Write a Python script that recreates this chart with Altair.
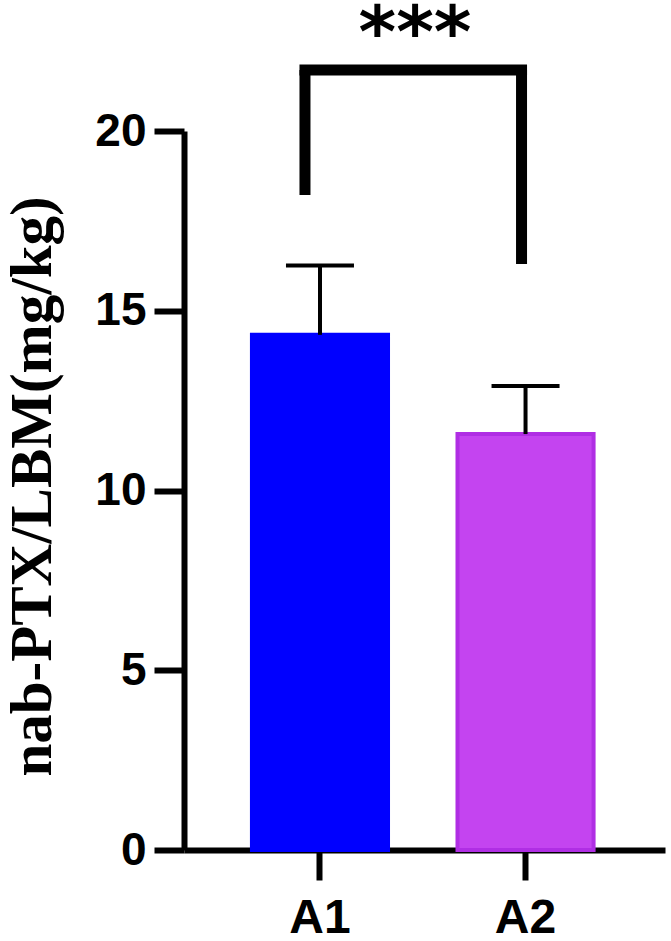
import altair as alt
import pandas as pd

groups = ["A1", "A2"]
means = [14.33, 11.57]
sds = [1.93, 1.34]
colors = ["#0000FF", "#C444F0"]
strokes = ["#0000FF", "#B02EE4"]

bracket_top = 21.70
leg_ends = [18.22, 16.30]
stars = "***"
star_y = 22.05

df = pd.DataFrame({"group": groups, "mean": means, "sd": sds,
                   "fill": colors, "stroke": strokes})
df["upper"] = df["mean"] + df["sd"]

x_scale = alt.Scale(domain=groups, paddingInner=0.338, paddingOuter=0.339, align=0.4875)
y_scale = alt.Scale(domain=[0, 20], nice=False, zero=True)

x_enc = alt.X("group:N", scale=x_scale, sort=groups,
              axis=alt.Axis(title=None, labelAngle=0, labelFont="Liberation Sans",
                            labelFontWeight="bold", labelFontSize=48, labelColor="black",
                            labelPadding=14, labelBaseline="top", grid=False,
                            domainColor="black", domainWidth=6,
                            tickColor="black", tickWidth=6, tickSize=30))

bars = alt.Chart(df).mark_bar(strokeWidth=4, strokeJoin="miter").encode(
    x=x_enc,
    y=alt.Y("mean:Q", scale=y_scale,
            axis=alt.Axis(title="nab-PTX/LBM(mg/kg)", values=[0, 5, 10, 15, 20],
                          grid=False, labelFont="Liberation Sans", labelFontWeight="bold",
                          labelFontSize=46, labelColor="black", labelPadding=8,
                          domainColor="black", domainWidth=6,
                          tickColor="black", tickWidth=6, tickSize=30,
                          titleFont="Liberation Serif", titleFontWeight="bold",
                          titleFontSize=59, titleColor="black", titleAngle=-90,
                          titleX=-134, titleY=355, titleAlign="center",
                          titleBaseline="alphabetic")),
    fill=alt.Fill("fill:N", scale=None),
    stroke=alt.Stroke("stroke:N", scale=None),
)

err = alt.Chart(df).mark_rule(color="black", strokeWidth=4).encode(
    x=alt.X("group:N", scale=x_scale, sort=groups),
    y=alt.Y("mean:Q", scale=y_scale),
    y2="upper:Q",
)
caps = alt.Chart(df).mark_tick(color="black", thickness=4, size=68, opacity=1).encode(
    x=alt.X("group:N", scale=x_scale, sort=groups),
    y=alt.Y("upper:Q", scale=y_scale),
)

legs = pd.DataFrame({"group": groups, "top": [bracket_top] * 2, "end": leg_ends})
leg1 = alt.Chart(legs[legs.group == "A1"]).mark_rule(
    color="black", strokeWidth=11, xOffset=-15).encode(
    x=alt.X("group:N", scale=x_scale, sort=groups),
    y=alt.Y("top:Q", scale=y_scale), y2="end:Q")
leg2 = alt.Chart(legs[legs.group == "A2"]).mark_rule(
    color="black", strokeWidth=11, xOffset=-4).encode(
    x=alt.X("group:N", scale=x_scale, sort=groups),
    y=alt.Y("top:Q", scale=y_scale), y2="end:Q")

hdf = pd.DataFrame({"g1": ["A1"], "g2": ["A2"], "y": [bracket_top]})
horiz = alt.Chart(hdf).mark_rule(color="black", strokeWidth=11, strokeCap="square",
                                 xOffset=-15, x2Offset=-4).encode(
    x=alt.X("g1:N", scale=x_scale, sort=groups),
    x2="g2:N",
    y=alt.Y("y:Q", scale=y_scale))

sdf = pd.DataFrame({"group": ["A1"], "y": [star_y], "label": [stars]})
star_text = alt.Chart(sdf).mark_text(font="DejaVu Sans", fontWeight="bold", fontSize=72,
                                     baseline="alphabetic", align="center", dx=95,
                                     color="black").encode(
    x=alt.X("group:N", scale=x_scale, sort=groups),
    y=alt.Y("y:Q", scale=y_scale),
    text="label:N")

chart = alt.layer(bars, err, caps, leg1, leg2, horiz, star_text).properties(
    width=481, height=719,
    autosize=alt.AutoSizeParams(type="none"),
    padding={"left": 184, "top": 131, "right": 6, "bottom": 91},
    view=alt.ViewBackground(stroke="transparent", strokeWidth=0, fill="white"),
).configure_view(stroke="transparent", strokeWidth=0).configure_axis(grid=False).configure(background="white")

chart.save("out.html", embed_options={"renderer": "svg", "actions": False})
